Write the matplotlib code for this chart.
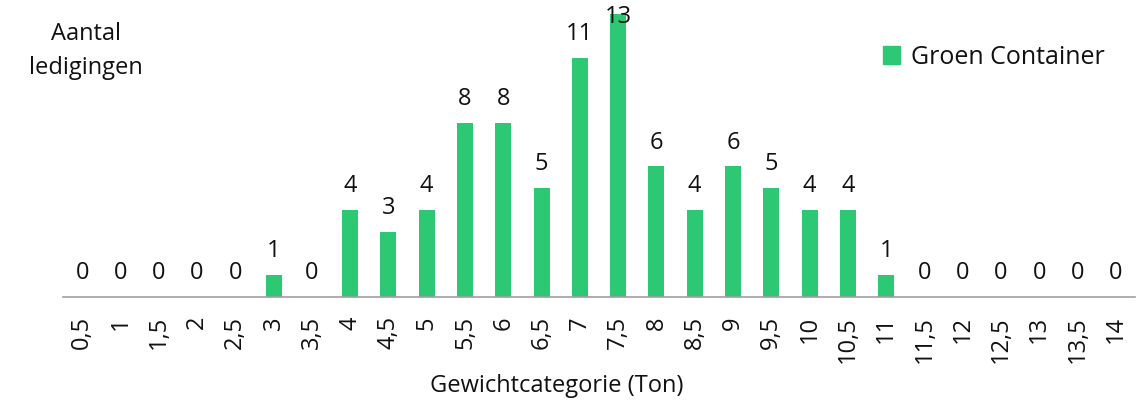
"""Aantal ledigingen per gewichtcategorie, groene container."""

import matplotlib

matplotlib.use("Agg")
import matplotlib.pyplot as plt
from matplotlib.patches import Patch

CATEGORIES = [
    "0,5", "1", "1,5", "2", "2,5", "3", "3,5", "4", "4,5", "5", "5,5", "6", "6,5", "7",
    "7,5", "8", "8,5", "9", "9,5", "10", "10,5", "11", "11,5", "12", "12,5", "13", "13,5", "14",
]
VALUES = [0, 0, 0, 0, 0, 1, 0, 4, 3, 4, 8, 8, 5, 11, 13, 6, 4, 6, 5, 4, 4, 1, 0, 0, 0, 0, 0, 0]
SERIES_NAME = "Groen Container"
X_TITLE = "Gewichtcategorie (Ton)"
Y_TITLE = "Aantal\nledigingen"

GREEN = "#2dc873"
TEXT = "#111111"
FONT = ["Open Sans", "DejaVu Sans"]
FS = 17

plt.rcParams["font.family"] = FONT

W, H = 1136, 410
fig = plt.figure(figsize=(W / 100, H / 100), dpi=100)
ax = fig.add_axes([63 / W, (H - 298) / H, (1135 - 63) / W, (298 - 15) / H])

x = list(range(len(CATEGORIES)))
ax.bar(x, VALUES, width=0.42, color=GREEN)
ax.set_xlim(-0.5, len(CATEGORIES) - 0.5)
ax.set_ylim(0, 13)

top = max(VALUES)
for xi, v in zip(x, VALUES):
    # the tallest label has no room above the plot, so it sits over the bar top
    dy = 13.5 if v < top else -6
    ax.annotate(str(v), (xi, v), xytext=(0, dy), textcoords="offset points",
                ha="center", va="baseline", fontsize=FS, color=TEXT, annotation_clip=False)

ax.set_xticks(x, CATEGORIES, rotation=90, fontsize=FS, color=TEXT)
ax.tick_params(axis="x", length=0, pad=13)
ax.set_yticks([])
for side in ("top", "right", "left"):
    ax.spines[side].set_visible(False)
ax.spines["bottom"].set_color("#a0a0a0")
ax.spines["bottom"].set_linewidth(1.2)

fig.text(557 / W, (H - 386) / H, X_TITLE, ha="center", va="center", fontsize=FS, color=TEXT)
fig.text(86 / W, (H - 51) / H, Y_TITLE, ha="center", va="center", fontsize=FS,
         color=TEXT, linespacing=1.6)

fig.legend(handles=[Patch(color=GREEN, label=SERIES_NAME)], loc="center left",
           bbox_to_anchor=(870 / W, (H - 58) / H), frameon=False, fontsize=FS + 1,
           handlelength=0.7, handleheight=0.7, handletextpad=0.45, borderpad=0,
           labelcolor=TEXT)

fig.savefig("out.png", dpi=100)
